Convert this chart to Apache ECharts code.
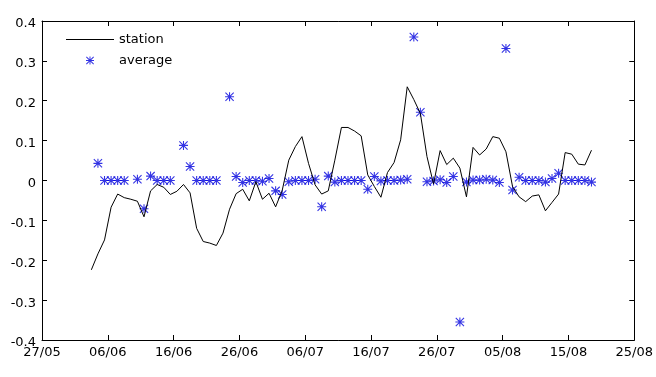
<!DOCTYPE html>
<html>
<head>
<meta charset="utf-8">
<script src="https://cdn.jsdelivr.net/npm/echarts@6/dist/echarts.min.js"></script>
<style>
  html, body { margin: 0; padding: 0; background: #fff; }
  #chart { width: 656px; height: 377px; }
</style>
</head>
<body>
<div id="chart"></div>
<script>
// 横轴刻度（从 27/05 起的天数，每 10 天一个刻度）
const xTickLabels = ['27/05', '06/06', '16/06', '26/06', '06/07', '16/07', '26/07', '05/08', '15/08', '25/08'];

// station：第一天位于 27/05 之后 7.5 天，逐日
const stationFirstDay = 7.5;
const stationValues = [
  -0.224, -0.184, -0.149, -0.067, -0.034, -0.043, -0.047, -0.052, -0.091, -0.026,
  -0.010, -0.017, -0.035, -0.027, -0.010, -0.031, -0.120, -0.153, -0.157, -0.163,
  -0.132, -0.072, -0.033, -0.022, -0.051, -0.003, -0.047, -0.032, -0.066, -0.025,
  0.051, 0.085, 0.110, 0.043, -0.011, -0.034, -0.026, 0.051, 0.133, 0.133,
  0.124, 0.112, 0.014, -0.015, -0.042, 0.020, 0.045, 0.102, 0.235, 0.203,
  0.168, 0.060, -0.009, 0.075, 0.040, 0.056, 0.031, -0.041, 0.083, 0.064,
  0.079, 0.110, 0.106, 0.072, -0.015, -0.041, -0.053, -0.039, -0.036, -0.076,
  -0.055, -0.034, 0.070, 0.066, 0.041, 0.039, 0.076
];

// average：第一天 8.5，null 表示当天没有数据
const averageFirstDay = 8.5;
const averageValues = [
  0.043, 0, 0, 0, 0, null, 0.003, -0.071, 0.011, 0,
  0, 0, null, 0.088, 0.035, 0, 0, 0, 0, null,
  0.210, 0.010, -0.005, 0, 0, -0.002, 0.005, -0.026, -0.035, -0.003,
  0, 0, 0, 0.003, -0.066, 0.011, -0.004, 0, 0, 0,
  0, -0.022, 0.010, -0.001, 0, 0, 0.001, 0.003, 0.360, 0.171,
  -0.003, -0.001, 0.002, -0.005, 0.010, -0.355, -0.004, 0.001, 0.001, 0.003,
  0.001, -0.005, 0.331, -0.024, 0.008, 0, 0, 0, -0.004, 0.005,
  0.018, 0, 0, 0, 0, -0.004
];

const stationData = stationValues.map((v, i) => [stationFirstDay + i, v]);
const averageData = averageValues
  .map((v, i) => [averageFirstDay + i, v])
  .filter(p => p[1] !== null);

// 星号标记（+ 和 x 叠加）
const starPath = 'path://M8.8,0h2.4v20h-2.4z M0,8.8h20v2.4h-20z M1.7,0L20,18.3L18.3,20L0,1.7z M18.3,0L20,1.7L1.7,20L0,18.3z';
// 图例里的细线
const linePath = 'path://M0,0h96v2h-96z';

const font = 'DejaVu Sans';
const chart = echarts.init(document.getElementById('chart'), null, { renderer: 'canvas' });

const axisLineStyle = { show: true, onZero: false, lineStyle: { color: '#000', width: 1 } };
const tickStyle = { show: true, inside: true, length: 5, lineStyle: { color: '#000' } };

const baseX = {
  type: 'value', min: 0, max: 90, interval: 10,
  splitLine: { show: false },
  axisLine: axisLineStyle,
  axisTick: tickStyle
};
const baseY = {
  type: 'value', min: -0.4, max: 0.4, interval: 0.1,
  splitLine: { show: false },
  axisLine: axisLineStyle,
  axisTick: tickStyle
};

chart.setOption({
  animation: false,
  backgroundColor: '#fff',
  grid: { left: 42, right: 20, top: 21, bottom: 37, show: false },
  legend: {
    orient: 'vertical',
    left: 61,
    top: 28,
    itemWidth: 48,
    itemHeight: 8,
    itemGap: 8,
    textStyle: { fontFamily: font, fontSize: 13, color: '#000' },
    data: [
      { name: 'station', icon: linePath, itemStyle: { color: '#000' } },
      { name: 'average' }
    ]
  },
  xAxis: [
    Object.assign({}, baseX, {
      position: 'bottom',
      axisLabel: {
        fontFamily: font, fontSize: 13, color: '#000', margin: 6,
        formatter: v => xTickLabels[Math.round(v / 10)]
      }
    }),
    Object.assign({}, baseX, { position: 'top', axisLabel: { show: false } })
  ],
  yAxis: [
    Object.assign({}, baseY, {
      position: 'left',
      axisLabel: {
        fontFamily: font, fontSize: 13, color: '#000', margin: 6,
        verticalAlign: 'top', lineHeight: 6,
        formatter: v => String(Math.round(v * 10) / 10)
      }
    }),
    Object.assign({}, baseY, { position: 'right', axisLabel: { show: false } })
  ],
  series: [
    {
      name: 'station',
      type: 'line',
      data: stationData,
      showSymbol: false,
      symbol: 'none',
      lineStyle: { color: '#000', width: 1 },
      itemStyle: { color: '#000' }
    },
    {
      name: 'average',
      type: 'scatter',
      data: averageData,
      symbol: starPath,
      symbolSize: 9,
      itemStyle: { color: '#0000dd' }
    }
  ]
});
</script>
</body>
</html>
